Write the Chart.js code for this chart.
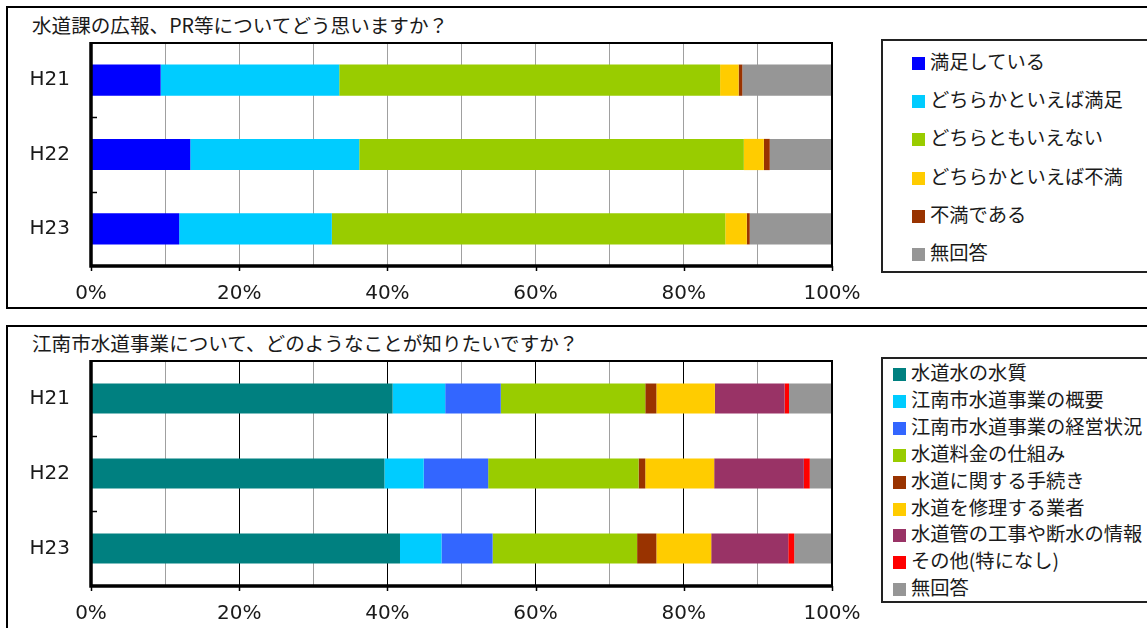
<!DOCTYPE html>
<html lang="ja">
<head>
<meta charset="utf-8">
<script src="https://cdn.jsdelivr.net/npm/chart.js@4"></script>
<style>
  body { margin: 0; background: #fff; }
  #page { position: relative; width: 1147px; height: 628px; overflow: hidden; font-family: 'Noto Sans CJK JP', sans-serif; color: #1a1a1a; }
  .panel { position: absolute; left: 6px; width: 1200px; border: 2px solid #000; box-sizing: border-box; }
  .title { position: absolute; left: 32px; font-size: 19.6px; line-height: 24px; white-space: nowrap; }
  canvas { position: absolute; left: 0; }
  .legend { position: absolute; left: 881px; width: 300px; border: 2px solid #222; box-sizing: border-box; background: #fff; }
  .item { position: absolute; font-size: 19.3px; line-height: 24px; white-space: nowrap; }
  .item span { display: inline-block; width: 13px; height: 13px; margin-right: 5px; vertical-align: -1px; }
</style>
</head>
<body>
<div id="page">
  <div class="panel" style="top:6px;height:303px;"></div>
  <div class="panel" style="top:325px;height:400px;"></div>
  <div class="title" style="top:13px;">水道課の広報、PR等についてどう思いますか？</div>
  <div class="title" style="top:331px;">江南市水道事業について、どのようなことが知りたいですか？</div>
  <canvas id="prChart" width="880" height="312" style="top:0;"></canvas>
  <canvas id="infoChart" width="880" height="310" style="top:318px;"></canvas>
  <div class="legend" id="prLegend" style="top:39px;height:234px;"></div>
  <div class="legend" id="infoLegend" style="top:357px;height:246px;"></div>
</div>
<script>
const years = ['H21', 'H22', 'H23'];
const tickValues = [0, 20, 40, 60, 80, 100];

// 広報、PR等について (%)
const prSeries = ['満足している', 'どちらかといえば満足', 'どちらともいえない', 'どちらかといえば不満', '不満である', '無回答'];
const prSatisfied = [9.4, 13.4, 11.9];
const prRatherSatisfied = [24.1, 22.8, 20.6];
const prNeutral = [51.4, 51.9, 53.1];
const prRatherUnsatisfied = [2.5, 2.7, 2.9];
const prUnsatisfied = [0.5, 0.8, 0.4];
const prNoAnswer = [12.1, 8.4, 11.1];
const prColors = ['#0000ff', '#00ccff', '#99cc00', '#ffcc00', '#993300', '#969696'];

// 知りたいこと (%)
const infoSeries = ['水道水の水質', '江南市水道事業の概要', '江南市水道事業の経営状況', '水道料金の仕組み', '水道に関する手続き', '水道を修理する業者', '水道管の工事や断水の情報', 'その他(特になし)', '無回答'];
const infoQuality = [40.7, 39.6, 41.7];
const infoOverview = [7.1, 5.3, 5.6];
const infoManagement = [7.5, 8.7, 6.9];
const infoFees = [19.5, 20.3, 19.5];
const infoProcedures = [1.5, 0.9, 2.6];
const infoContractors = [7.9, 9.3, 7.4];
const infoConstruction = [9.4, 12.1, 10.4];
const infoOther = [0.6, 0.8, 0.8];
const infoNoAnswer = [5.8, 3.0, 5.1];
const infoColors = ['#008080', '#00ccff', '#3366ff', '#99cc00', '#993300', '#ffcc00', '#993366', '#ff0000', '#969696'];

const TICK_FONT = "'DejaVu Sans', 'Noto Sans CJK JP', sans-serif";

// plot frame, heavy axes and the small tick marks
const frame = {
  id: 'frame',
  afterDatasetsDraw(chart) {
    const a = chart.chartArea, c = chart.ctx;
    const x = chart.scales.x, y = chart.scales.y;
    c.save();
    c.strokeStyle = '#000';
    c.lineWidth = 2;
    c.strokeRect(a.left, a.top, a.right - a.left, a.bottom - a.top);
    c.lineWidth = 1.5;
    for (let i = 0; i < chart.data.labels.length - 1; i++) {
      const py = Math.round(y.getPixelForValue(i + 0.5)) + 0.5;
      c.beginPath(); c.moveTo(a.left, py); c.lineTo(a.left + 6, py); c.stroke();
    }
    tickValues.forEach(function (v) {
      const px = Math.round(x.getPixelForValue(v)) + 0.5;
      c.beginPath(); c.moveTo(px, a.bottom); c.lineTo(px, a.bottom + 5); c.stroke();
    });
    c.lineWidth = 3.5;
    c.beginPath();
    c.moveTo(a.left, a.top - 1); c.lineTo(a.left, a.bottom); c.lineTo(a.right + 1, a.bottom);
    c.stroke();
    c.restore();
  }
};

function makeChart(id, series, values, colors, barPct, gridColor, axisHeight) {
  const canvas = document.getElementById(id);
  return new Chart(canvas, {
    type: 'bar',
    data: {
      labels: years,
      datasets: series.map(function (name, i) {
        return { label: name, data: values[i], backgroundColor: colors[i], borderWidth: 0, barPercentage: barPct, categoryPercentage: 1 };
      })
    },
    options: {
      indexAxis: 'y',
      responsive: false,
      animation: false,
      layout: { padding: { top: 43, right: 48, left: 0, bottom: 0 } },
      plugins: { legend: { display: false }, tooltip: { enabled: false } },
      scales: {
        x: {
          stacked: true, min: 0, max: 100,
          afterFit: function (s) { s.height = axisHeight; },
          grid: { color: gridColor, lineWidth: 1, drawTicks: false },
          border: { display: false },
          ticks: {
            stepSize: 10, autoSkip: false, maxRotation: 0, padding: 16, color: '#1a1a1a',
            font: { family: TICK_FONT, size: 20 },
            callback: function (v) { return v % 20 === 0 ? v + '%' : ''; }
          }
        },
        y: {
          stacked: true,
          afterFit: function (s) { s.width = 91; },
          grid: { display: false, drawTicks: false },
          border: { display: false },
          ticks: { padding: 21, color: '#1a1a1a', font: { family: TICK_FONT, size: 20 } }
        }
      }
    },
    plugins: [frame]
  });
}

function makeLegend(id, series, colors, first, step, left) {
  const box = document.getElementById(id);
  series.forEach(function (name, i) {
    const item = document.createElement('div');
    item.className = 'item';
    item.style.left = left + 'px';
    item.style.top = (first + step * i - 12) + 'px';
    item.innerHTML = '<span style="background:' + colors[i] + '"></span>' + name;
    box.appendChild(item);
  });
}

makeChart('prChart', prSeries,
  [prSatisfied, prRatherSatisfied, prNeutral, prRatherUnsatisfied, prUnsatisfied, prNoAnswer],
  prColors, 0.42, '#a0a0a0', 46);

makeChart('infoChart', infoSeries,
  [infoQuality, infoOverview, infoManagement, infoFees, infoProcedures, infoContractors, infoConstruction, infoOther, infoNoAnswer],
  infoColors, 0.40, function (ctx) { return ctx.tick.value % 20 === 0 ? '#000' : '#a0a0a0'; }, 42);

makeLegend('prLegend', prSeries, prColors, 20, 38.2, 29);
makeLegend('infoLegend', infoSeries, infoColors, 13, 26.9, 10);
</script>
</body>
</html>
